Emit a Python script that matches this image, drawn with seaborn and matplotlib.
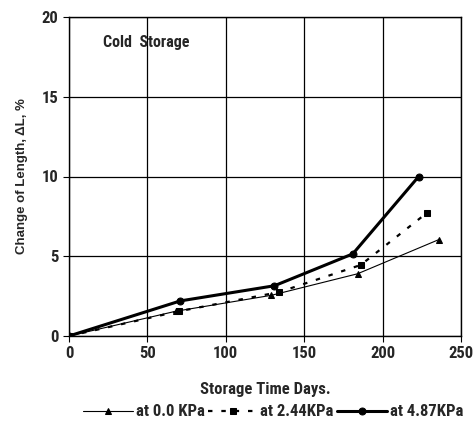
import matplotlib
matplotlib.use("Agg")
import matplotlib.pyplot as plt
from matplotlib import font_manager
import seaborn as sns
import pandas as pd

days_0 = [0, 68, 129, 184, 236]
dl_0 = [0, 1.55, 2.55, 3.9, 6.05]
days_244 = [0, 70, 134, 186, 228]
dl_244 = [0, 1.55, 2.75, 4.45, 7.7]
days_487 = [0, 71, 131, 181, 223]
dl_487 = [0, 2.2, 3.15, 5.15, 10.0]
series = ["at 0.0 KPa", "at 2.44KPa", "at 4.87KPa"]

sns.set_style("white")
names = {f.name for f in font_manager.fontManager.ttflist}
narrow = [n for n in ['Liberation Sans Narrow', 'DejaVu Sans Condensed', 'Roboto Condensed'] if n in names]
narrow_fam = narrow + ['Liberation Sans', 'DejaVu Sans']
plt.rcParams['font.family'] = ['Liberation Sans', 'DejaVu Sans']

df = pd.concat([
    pd.DataFrame({"x": days_0, "y": dl_0, "s": series[0]}),
    pd.DataFrame({"x": days_244, "y": dl_244, "s": series[1]}),
    pd.DataFrame({"x": days_487, "y": dl_487, "s": series[2]}),
])

fig = plt.figure(figsize=(4.75, 4.32), dpi=100)
ax = fig.add_axes([69/475, 1-336/432, 392/475, 319/432])

styles = {
    series[0]: dict(lw=0.8, ls="-", marker="^", ms=5),
    series[1]: dict(lw=1.6, ls=(0, (2.0, 4.0)), marker="s", ms=4.5),
    series[2]: dict(lw=2.2, ls="-", marker="o", ms=5),
}
for s in series:
    sub = df[df["s"] == s]
    st = styles[s]
    sns.lineplot(data=sub, x="x", y="y", ax=ax, color="black", linewidth=st["lw"],
                 linestyle=st["ls"], marker=st["marker"], markersize=st["ms"],
                 markeredgecolor="black", markerfacecolor="black", label=s, legend=False)

big = 12 if narrow else 10
ax.set_xlim(0, 250)
ax.set_ylim(0, 20)
ax.set_xticks([0, 50, 100, 150, 200, 250])
ax.set_yticks([0, 5, 10, 15, 20])
ax.grid(True, color="black", lw=0.9)
for sp in ax.spines.values():
    sp.set_color("black")
    sp.set_linewidth(1.0)
ax.tick_params(axis="both", length=4, direction="out", color="black", bottom=True, left=True)
for lab in ax.get_xticklabels() + ax.get_yticklabels():
    lab.set_fontweight("bold")
    lab.set_family(narrow_fam)
    lab.set_fontsize(big)
ax.set_xlabel("Storage Time Days.", fontsize=big, fontweight="bold",
              labelpad=15, family=narrow_fam)
ax.set_ylabel("Change of Length, ΔL, %", fontsize=9.5, fontweight="bold", labelpad=10)
ax.text(22, 18.4, "Cold  Storage", fontsize=big - 0.5, fontweight="bold", family=narrow_fam,
        va="center")

handles, labels = ax.get_legend_handles_labels()
fig.legend(handles, labels, loc="center", bbox_to_anchor=(0.575, 1-412/432), ncol=3,
           frameon=False, handlelength=3.0, handletextpad=0.15,
           columnspacing=0.2,
           prop={"weight": "bold", "size": big, "family": narrow_fam})

fig.savefig("out.png", dpi=100, facecolor="white")
